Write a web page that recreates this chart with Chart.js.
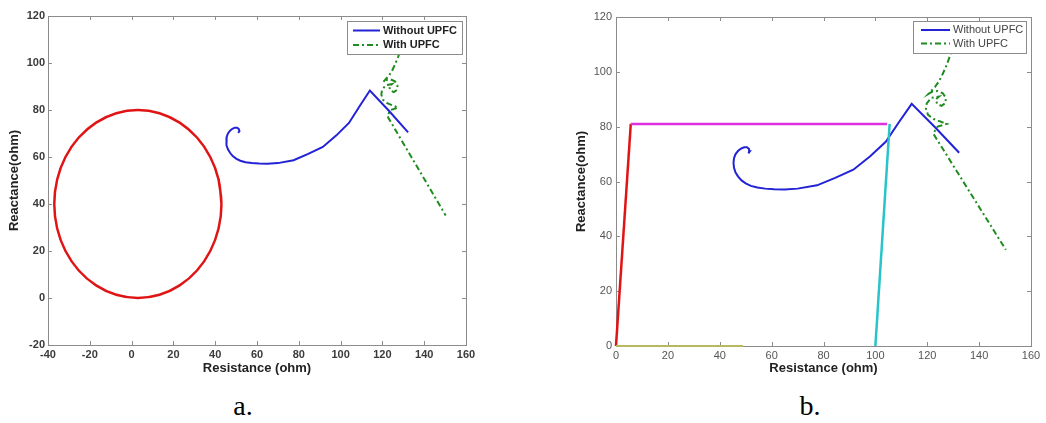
<!DOCTYPE html>
<html lang="en">
<head>
<meta charset="UTF-8">
<title>Impedance trajectory - with / without UPFC</title>
<script src="https://cdn.jsdelivr.net/npm/chart.js"></script>
<style>
    body { margin: 0; background: #fff; width: 1046px; height: 423px; overflow: hidden; position: relative; }
    .panel { position: absolute; top: 0; }
    .caption { position: absolute; top: 390px; font-family: "Liberation Serif", "Times New Roman", serif; font-size: 28px; line-height: 32px; color: #000; transform: translateX(-50%); }
</style>
</head>
<body>
<div class="panel" style="left:0"><canvas id="chartA" width="520" height="380"></canvas></div>
<div class="panel" style="left:520px"><canvas id="chartB" width="526" height="380"></canvas></div>
<div class="caption" style="left:243px">a.</div>
<div class="caption" style="left:810px">b.</div>

<script>
// ---- data (resistance R, reactance X in ohm) ----
const xTicksA = [-40, -20, 0, 20, 40, 60, 80, 100, 120, 140, 160];
const yTicksA = [-20, 0, 20, 40, 60, 80, 100, 120];
const xTicksB = [0, 20, 40, 60, 80, 100, 120, 140, 160];
const yTicksB = [0, 20, 40, 60, 80, 100, 120];

// mho circle (panel a)
const circleR = [43, 41.64, 37.64, 31.28, 23, 13.35, 3, -7.35, -17, -25.28, -31.64, -35.64, -37,
                 -35.64, -31.64, -25.28, -17, -7.35, 3, 13.35, 23, 31.28, 37.64, 41.64, 43, 41.64];
const circleX = [40, 50.35, 60, 68.28, 74.64, 78.64, 80, 78.64, 74.64, 68.28, 60, 50.35, 40,
                 29.65, 20, 11.72, 5.36, 1.36, 0, 1.36, 5.36, 11.72, 20, 29.65, 40, 50.35];

// quadrilateral characteristic (panel b)
const leftEdgeR = [0, 5.7];
const leftEdgeX = [0, 81];
const topEdgeR = [5.7, 104.5];
const topEdgeX = [81, 81];
const rightEdgeR = [100, 105.5];
const rightEdgeX = [0, 81];
const baseEdgeR = [0, 49];
const baseEdgeX = [0, 0];

// impedance trajectory without UPFC
const withoutR = [51, 51.6, 51.3, 50.5, 49.4, 48.2, 47.1, 46.1, 45.5, 45.3, 45.5, 46.1, 47.1, 48.4, 50, 52,
                  54.5, 57.5, 61, 65, 70, 77.5, 84.5, 91.5, 98, 104, 109, 114, 123, 132.3];
const withoutX = [70.3, 71, 71.9, 72.5, 72.5, 72, 71.2, 70, 68.5, 66.8, 65, 63.3, 61.8, 60.4, 59.3, 58.4,
                  57.8, 57.4, 57.2, 57.1, 57.4, 58.6, 61.3, 64.3, 69.2, 74.5, 81.5, 88.3, 79.8, 70.5];

// impedance trajectory with UPFC
const withR = [131, 129, 127.5, 126, 124.5, 123, 121.5, 120.5, 122, 124, 126, 127.2, 127, 125.5, 123.8, 123.3,
               124.5, 121.5, 119.8, 119.5, 120.3, 122.5, 127.5, 124, 122.3, 150.3];
const withX = [110, 106.5, 102.5, 99.3, 96.5, 94.5, 93, 92, 92.8, 93, 92.2, 90.5, 88.6, 87.6, 88.3, 90,
               91, 90.5, 88.5, 86.5, 84.3, 82.8, 81, 80, 77.5, 35.1];

const legendLabels = ['Without UPFC', 'With UPFC'];

function pts(rs, xs) {
    return rs.map((r, i) => ({ x: r, y: xs[i] }));
}

function line(rs, xs, color, width, dash, tension) {
    return {
        data: pts(rs, xs),
        showLine: true,
        borderColor: color,
        backgroundColor: color,
        borderWidth: width,
        borderDash: dash || [],
        pointRadius: 0,
        tension: tension || 0,
        fill: false
    };
}

const BLUE = '#2222d6';
const GREEN = '#1f8c1f';
const GREEN_DASH = [6, 3, 2, 3];

// matlab style box with inward ticks (drawn under the data)
const framePlugin = {
    id: 'frame',
    beforeDatasetsDraw(chart) {
        const { ctx, chartArea: a, scales } = chart;
        ctx.save();
        ctx.strokeStyle = '#8c8c8c';
        ctx.lineWidth = 1;
        ctx.strokeRect(a.left + 0.5, a.top + 0.5, a.right - a.left, a.bottom - a.top);
        ctx.beginPath();
        scales.x.ticks.forEach(t => {
            const px = Math.round(scales.x.getPixelForValue(t.value)) + 0.5;
            ctx.moveTo(px, a.bottom); ctx.lineTo(px, a.bottom - 4);
            ctx.moveTo(px, a.top); ctx.lineTo(px, a.top + 4);
        });
        scales.y.ticks.forEach(t => {
            const py = Math.round(scales.y.getPixelForValue(t.value)) + 0.5;
            ctx.moveTo(a.left, py); ctx.lineTo(a.left + 4, py);
            ctx.moveTo(a.right, py); ctx.lineTo(a.right - 4, py);
        });
        ctx.stroke();
        ctx.restore();
    }
};

// legend box drawn inside the axes, top right
const boxLegend = {
    id: 'boxLegend',
    afterDraw(chart, args, opt) {
        const { ctx, chartArea: a } = chart;
        const left = a.right - opt.right - opt.w;
        const top = a.top + opt.top;
        ctx.save();
        ctx.fillStyle = '#fff';
        ctx.fillRect(left, top, opt.w, opt.h);
        ctx.strokeStyle = '#8c8c8c';
        ctx.lineWidth = 1;
        ctx.strokeRect(left + 0.5, top + 0.5, opt.w, opt.h);
        const rows = [
            { color: BLUE, dash: [], y: top + opt.row1 },
            { color: GREEN, dash: GREEN_DASH, y: top + opt.row2 }
        ];
        ctx.font = opt.font;
        ctx.textBaseline = 'middle';
        rows.forEach((r, i) => {
            ctx.beginPath();
            ctx.setLineDash(r.dash);
            ctx.strokeStyle = r.color;
            ctx.lineWidth = 2;
            ctx.moveTo(left + opt.lineFrom, r.y);
            ctx.lineTo(left + opt.lineTo, r.y);
            ctx.stroke();
            ctx.setLineDash([]);
            ctx.fillStyle = opt.color;
            ctx.fillText(legendLabels[i], left + opt.textX, r.y);
        });
        ctx.restore();
    }
};

function axes(xTicks, yTicks, cfg) {
    const tickFont = { family: 'Liberation Sans, Arial, sans-serif', size: 11, weight: cfg.tickWeight };
    const titleFont = { family: 'Liberation Sans, Arial, sans-serif', size: 13, weight: 'bold' };
    return {
        x: {
            type: 'linear',
            min: xTicks[0],
            max: xTicks[xTicks.length - 1],
            afterBuildTicks: s => { s.ticks = xTicks.map(v => ({ value: v })); },
            afterFit: s => { s.height = cfg.xHeight; },
            grid: { display: false, drawTicks: false },
            border: { display: false },
            ticks: { color: cfg.tickColor, font: tickFont, padding: 3, maxRotation: 0, autoSkip: false },
            title: { display: true, text: 'Resistance (ohm)', color: '#222', font: titleFont, padding: { top: 0, bottom: 4 } }
        },
        y: {
            type: 'linear',
            min: yTicks[0],
            max: yTicks[yTicks.length - 1],
            afterBuildTicks: s => { s.ticks = yTicks.map(v => ({ value: v })); },
            afterFit: s => { s.width = cfg.yWidth; },
            grid: { display: false, drawTicks: false },
            border: { display: false },
            ticks: { color: cfg.tickColor, font: tickFont, padding: cfg.yPad, autoSkip: false },
            title: { display: true, text: 'Reactance(ohm)', color: '#222', font: titleFont, padding: { top: cfg.yTitlePad, bottom: 0 } }
        }
    };
}

// Panel a
new Chart(document.getElementById('chartA'), {
    type: 'scatter',
    data: {
        datasets: [
            line(circleR, circleX, '#e01414', 2.5, [], 0.4),
            line(withoutR, withoutX, BLUE, 2),
            line(withR, withX, GREEN, 2, GREEN_DASH)
        ]
    },
    options: {
        responsive: false,
        animation: false,
        layout: { padding: { left: 0, top: 16, right: 54, bottom: 0 } },
        scales: axes(xTicksA, yTicksA, { tickWeight: 'bold', tickColor: '#3a3a3a', xHeight: 35, yWidth: 48, yPad: 3, yTitlePad: 7 }),
        plugins: {
            legend: { display: false },
            tooltip: { enabled: false },
            boxLegend: { right: 4, top: 5, w: 115, h: 33, row1: 9.5, row2: 24, lineFrom: 6, lineTo: 33, textX: 36,
                         font: 'bold 11px "Liberation Sans", Arial, sans-serif', color: '#222' }
        }
    },
    plugins: [framePlugin, boxLegend]
});

// Panel b
const baseLine = line(baseEdgeR, baseEdgeX, '#b8b860', 2);
baseLine.clip = false;
const leftLine = line(leftEdgeR, leftEdgeX, '#e01414', 2.5);
leftLine.clip = false;

new Chart(document.getElementById('chartB'), {
    type: 'scatter',
    data: {
        datasets: [
            baseLine,
            line(topEdgeR, topEdgeX, '#e030e0', 2.5),
            leftLine,
            line(rightEdgeR, rightEdgeX, '#28c4c8', 2.5),
            line(withoutR, withoutX, BLUE, 2),
            line(withR, withX, GREEN, 2, GREEN_DASH)
        ]
    },
    options: {
        responsive: false,
        animation: false,
        layout: { padding: { left: 50, top: 17, right: 15, bottom: 0 } },
        scales: axes(xTicksB, yTicksB, { tickWeight: 'normal', tickColor: '#555', xHeight: 34, yWidth: 46, yPad: 4, yTitlePad: 4 }),
        plugins: {
            legend: { display: false },
            tooltip: { enabled: false },
            boxLegend: { right: 5, top: 4, w: 113, h: 32, row1: 9, row2: 22.5, lineFrom: 8, lineTo: 37, textX: 40,
                         font: '11px "Liberation Sans", Arial, sans-serif', color: '#444' }
        }
    },
    plugins: [framePlugin, boxLegend]
});
</script>
</body>
</html>
